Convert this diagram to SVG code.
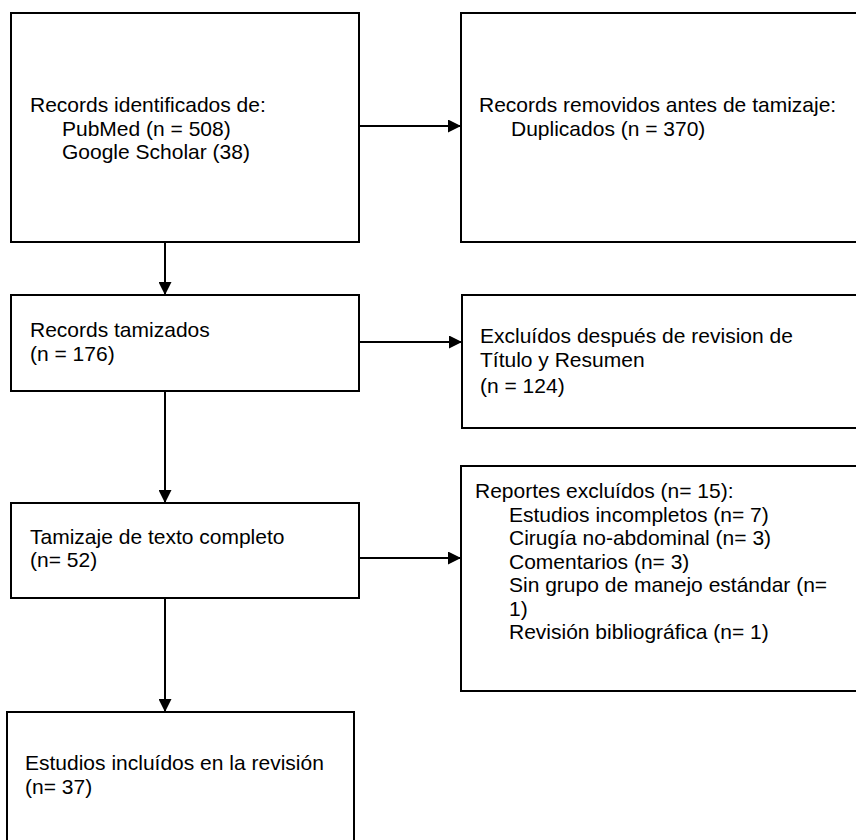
<svg xmlns="http://www.w3.org/2000/svg" width="856" height="840" viewBox="0 0 856 840">
<defs>
<style>
.box{fill:#fff;stroke:#000;stroke-width:2}
.t{font-family:"Liberation Sans",Arial,sans-serif;font-size:21px;fill:#000}
.c{stroke:#000;stroke-width:2;fill:none}
</style>
<marker id="ah" markerWidth="13" markerHeight="13" refX="13" refY="6.5" orient="auto" markerUnits="userSpaceOnUse">
<path d="M0,0 L13,6.5 L0,13 Z" fill="#000"/>
</marker>
</defs>
<rect width="856" height="840" fill="#fff"/>
<g id="connectors">
<line class="c" x1="359" y1="126" x2="461" y2="126" marker-end="url(#ah)"/>
<line class="c" x1="165" y1="242" x2="165" y2="295" marker-end="url(#ah)"/>
<line class="c" x1="359" y1="342" x2="462" y2="342" marker-end="url(#ah)"/>
<line class="c" x1="165" y1="391" x2="165" y2="503" marker-end="url(#ah)"/>
<line class="c" x1="359" y1="558" x2="461" y2="558" marker-end="url(#ah)"/>
<line class="c" x1="165" y1="598" x2="165" y2="712" marker-end="url(#ah)"/>
</g>
<g id="n1">
<rect class="box" x="11" y="13" width="348" height="229"/>
<text class="t" x="30" y="112">Records identificados de:</text>
<text class="t" x="62" y="135.5">PubMed (n = 508)</text>
<text class="t" x="62" y="159">Google Scholar (38)</text>
</g>
<g id="n2">
<rect class="box" x="461" y="13" width="420" height="229"/>
<text class="t" x="479" y="112">Records removidos antes de tamizaje:</text>
<text class="t" x="511" y="135.5">Duplicados (n = 370)</text>
</g>
<g id="n3">
<rect class="box" x="11" y="295" width="348" height="96"/>
<text class="t" x="30" y="337">Records tamizados</text>
<text class="t" x="30" y="360.5">(n = 176)</text>
</g>
<g id="n4">
<rect class="box" x="462" y="295" width="420" height="133"/>
<text class="t" x="480" y="343">Excluídos después de revision de</text>
<text class="t" x="480" y="366.5">Título y Resumen</text>
<text class="t" x="480" y="393">(n = 124)</text>
</g>
<g id="n5">
<rect class="box" x="11" y="503" width="348" height="95"/>
<text class="t" x="30" y="543.5">Tamizaje de texto completo</text>
<text class="t" x="30" y="567">(n= 52)</text>
</g>
<g id="n6">
<rect class="box" x="461" y="466" width="420" height="225"/>
<text class="t" x="475" y="498">Reportes excluídos (n= 15):</text>
<text class="t" x="509" y="521.5">Estudios incompletos (n= 7)</text>
<text class="t" x="509" y="545">Cirugía no-abdominal (n= 3)</text>
<text class="t" x="509" y="568.5">Comentarios (n= 3)</text>
<text class="t" x="509" y="592">Sin grupo de manejo estándar (n=</text>
<text class="t" x="509" y="615.5">1)</text>
<text class="t" x="509" y="639">Revisión bibliográfica (n= 1)</text>
</g>
<g id="n7">
<rect class="box" x="7" y="712" width="347" height="140"/>
<text class="t" x="25" y="770">Estudios incluídos en la revisión</text>
<text class="t" x="25" y="794">(n= 37)</text>
</g>
</svg>
